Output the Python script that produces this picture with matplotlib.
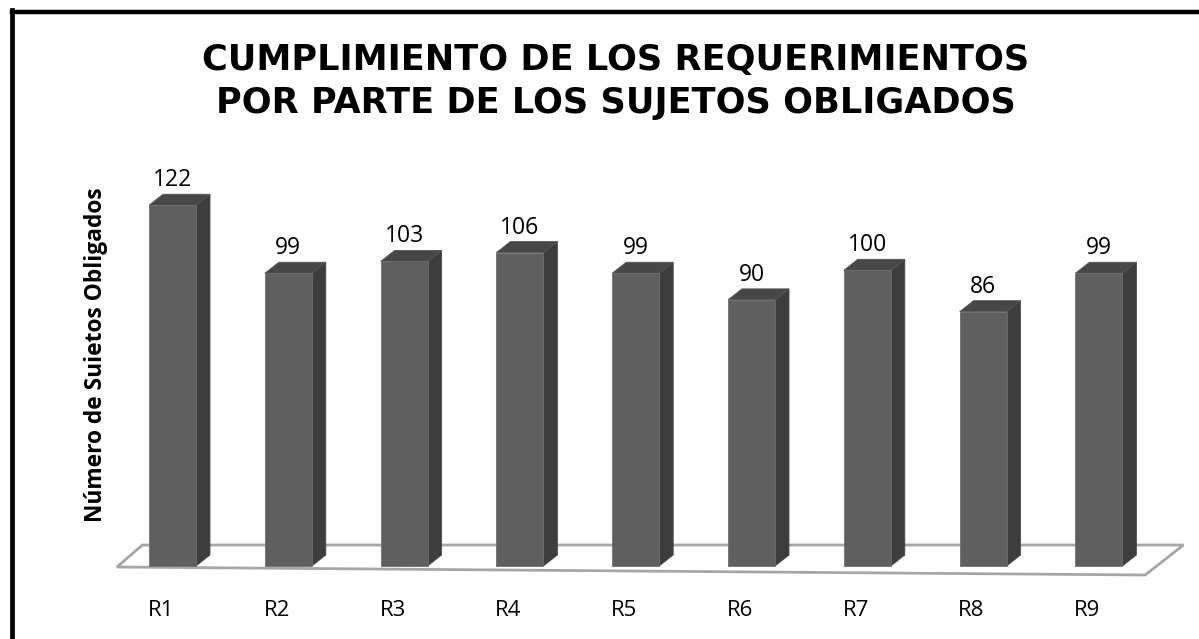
import matplotlib
matplotlib.use("Agg")
import matplotlib.pyplot as plt
import matplotlib.patches as patches
from matplotlib.lines import Line2D

# Data
categories = ["R1", "R2", "R3", "R4", "R5", "R6", "R7", "R8", "R9"]
values = [122, 99, 103, 106, 99, 90, 100, 86, 99]

title_lines = ["CUMPLIMIENTO DE LOS REQUERIMIENTOS", "POR PARTE DE LOS SUJETOS OBLIGADOS"]
ylabel = "Número de Suietos Obligados"

W, H = 1199, 639
DPI = 100
fig = plt.figure(figsize=(W / DPI, H / DPI), dpi=DPI)
fig.patch.set_facecolor("white")

# axes geometry (pixels): category step ~115.8 px, 2.957 px per unit
step_px = 115.8
unit_px = 2.957
x0_px = 172.5          # centre of first bar (from left)
base_px = 566          # zero line (from top)
xmin, xmax = -1.0, 8.85
ymin, ymax = -20, 140
ax_left = x0_px + xmin * step_px
ax_width = (xmax - xmin) * step_px
ax_bottom = H - (base_px - ymin * unit_px)
ax_height = (ymax - ymin) * unit_px
ax = fig.add_axes([ax_left / W, ax_bottom / H, ax_width / W, ax_height / H])
ax.set_xlim(xmin, xmax)
ax.set_ylim(ymin, ymax)
ax.axis("off")

# depth of the 3-D effect, converted from pixels to data units
bar_w = 47 / step_px
dx = 14 / step_px
dy = 11 / unit_px

front_c = "#5f5f5f"
side_c = "#3d3d3d"
top_c = "#474747"
floor_c = "#a6a6a6"

# floor
floor = patches.Polygon(
    [(-0.48, -0.34), (8.40, -3.04), (8.73, 7.1), (-0.26, 7.1)],
    closed=True, facecolor="white", edgecolor=floor_c, linewidth=2.0, zorder=1)
ax.add_patch(floor)

for i, v in enumerate(values):
    xl = i - bar_w / 2
    xr = i + bar_w / 2
    front = patches.Rectangle((xl, 0), bar_w, v, facecolor=front_c,
                              edgecolor="#6e6e6e", linewidth=0.6, zorder=3)
    side = patches.Polygon([(xr, 0), (xr + dx, dy), (xr + dx, v + dy), (xr, v)],
                           closed=True, facecolor=side_c, edgecolor="#4a4a4a",
                           linewidth=0.6, zorder=3)
    top = patches.Polygon([(xl, v), (xr, v), (xr + dx, v + dy), (xl + dx, v + dy)],
                          closed=True, facecolor=top_c, edgecolor="#555555",
                          linewidth=0.6, zorder=3)
    ax.add_patch(side)
    ax.add_patch(top)
    ax.add_patch(front)
    ax.text(i, v + dy + 8 / unit_px, str(v), ha="center", va="baseline",
            fontsize=16.5, family="Open Sans", color="black", zorder=5)
    ax.text(i - 0.1, -14.9, categories[i], ha="center", va="center",
            fontsize=16, family="Open Sans", color="black", zorder=5)

# title
fig.text(616 / W, 1 - 70 / H, title_lines[0], ha="center", va="baseline",
         fontsize=25.3, fontweight="bold", family="DejaVu Sans")
fig.text(616 / W, 1 - 113 / H, title_lines[1], ha="center", va="baseline",
         fontsize=25.3, fontweight="bold", family="DejaVu Sans")

# y label
fig.text(96 / W, 1 - 355 / H, ylabel, rotation=90, ha="center", va="center",
         fontsize=16.4, fontweight="bold", family="Open Sans")

# frame (top and left only, the rest is cropped)
fig.add_artist(Line2D([12 / W, 1], [1 - 11.5 / H, 1 - 11.5 / H],
                      transform=fig.transFigure, color="black", linewidth=3.2))
fig.add_artist(Line2D([11.5 / W, 11.5 / W], [0, 1 - 10 / H],
                      transform=fig.transFigure, color="black", linewidth=3.4))

fig.savefig("out.png", dpi=DPI)
